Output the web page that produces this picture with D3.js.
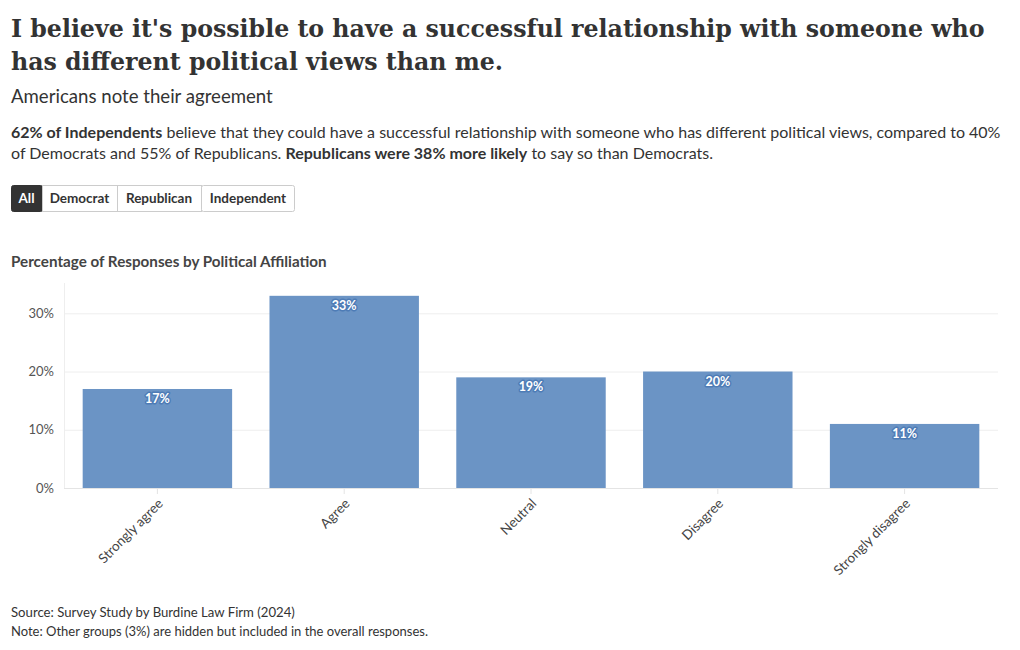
<!DOCTYPE html>
<html>
<head>
<meta charset="utf-8">
<script src="https://cdn.jsdelivr.net/npm/d3@7"></script>
<style>
  html, body { margin: 0; padding: 0; background: #fff; }
  svg { display: block; }
</style>
</head>
<body>
<svg id="chart" width="1020" height="650"></svg>
<script>
const categories = ["Strongly agree", "Agree", "Neutral", "Disagree", "Strongly disagree"];
const values = [17, 33, 19, 20, 11];
const yTicks = [0, 10, 20, 30];
const buttons = ["All", "Democrat", "Republican", "Independent"];
const titleLines = ["I believe it's possible to have a successful relationship with someone who", "has different political views than me."];
const subtitle = "Americans note their agreement";
const descLines = [
  [{t: "62% of Independents", b: true}, {t: " believe that they could have a successful relationship with someone who has different political views, compared to 40%", b: false}],
  [{t: "of Democrats and 55% of Republicans. ", b: false}, {t: "Republicans were 38% more likely", b: true}, {t: " to say so than Democrats.", b: false}]
];
const chartTitle = "Percentage of Responses by Political Affiliation";
const footer = ["Source: Survey Study by Burdine Law Firm (2024)", "Note: Other groups (3%) are hidden but included in the overall responses."];

const svg = d3.select("#chart");
const sans = "Lato, 'Noto Sans', sans-serif";
const serif = "'DejaVu Serif', serif";

function fit(sel, size, target) {
  const w = sel.node().getComputedTextLength();
  return size * target / w;
}

// Title (fit line width to reference)
const tg = svg.append("g");
const t1 = tg.append("text").attr("x", 11).attr("y", 37).attr("font-family", serif).attr("font-weight", 700)
  .attr("font-size", 26).attr("fill", "#333").text(titleLines[0]);
const titleSize = fit(t1, 26, 974);
t1.attr("font-size", titleSize);
tg.append("text").attr("x", 11).attr("y", 70).attr("font-family", serif).attr("font-weight", 700)
  .attr("font-size", titleSize).attr("fill", "#333").text(titleLines[1]);

const sub = svg.append("text").attr("x", 11).attr("y", 103).attr("font-family", sans).attr("font-size", 18.5)
  .attr("fill", "#333").text(subtitle);
sub.attr("font-size", fit(sub, 18.5, 262));

// Description
const descY = [138, 159];
let descSize = 15.5;
const dTexts = descLines.map((parts, i) => {
  const txt = svg.append("text").attr("x", 11).attr("y", descY[i]).attr("font-family", sans)
    .attr("font-size", descSize).attr("fill", "#333");
  parts.forEach(p => txt.append("tspan").attr("font-weight", p.b ? 700 : 400).text(p.t));
  return txt;
});
descSize = fit(dTexts[0], descSize, 990);
dTexts.forEach(t => t.attr("font-size", descSize));

// Buttons
const btnEdges = [11, 42, 117, 201, 295];
const bg = svg.append("g");
buttons.forEach((b, i) => {
  const x0 = btnEdges[i], x1 = btnEdges[i + 1];
  bg.append("rect").attr("x", x0 + 0.5).attr("y", 185.5).attr("width", x1 - x0 - 1 + (i === 3 ? 0 : 1)).attr("height", 26)
    .attr("rx", i === 0 || i === 3 ? 2 : 0)
    .attr("fill", i === 0 ? "#333" : "#fff").attr("stroke", i === 0 ? "#333" : "#ccc");
  bg.append("text").attr("x", (x0 + x1) / 2).attr("y", 203).attr("text-anchor", "middle")
    .attr("font-family", sans).attr("font-weight", 700).attr("font-size", 13.5)
    .attr("fill", i === 0 ? "#fff" : "#333").text(b);
});

// Chart title
const ct = svg.append("text").attr("x", 11).attr("y", 267).attr("font-family", sans).attr("font-weight", 700)
  .attr("font-size", 14).attr("fill", "#444").text(chartTitle);
ct.attr("font-size", fit(ct, 14, 316));

// Chart
const x = d3.scaleBand().domain(categories).range([64, 998]).paddingInner(0.2).paddingOuter(0.1);
const y = d3.scaleLinear().domain([0, 35.2]).range([488, 283]);

const grid = svg.append("g");
grid.selectAll("line.g").data(yTicks).join("line")
  .attr("x1", 64).attr("x2", 998).attr("y1", d => y(d) + 0.5).attr("y2", d => y(d) + 0.5)
  .attr("stroke", d => d === 0 ? "#e4e4e4" : "#eeeeee").attr("stroke-width", 1);
grid.append("line").attr("x1", 64.5).attr("x2", 64.5).attr("y1", 283).attr("y2", 488)
  .attr("stroke", "#eeeeee");

const yAxis = svg.append("g").attr("transform", "translate(64,0)")
  .call(d3.axisLeft(y).tickValues(yTicks).tickFormat(d => d + "%").tickSize(0).tickPadding(10));
yAxis.select(".domain").remove();
yAxis.selectAll("text").attr("font-family", sans).attr("font-size", 13).attr("fill", "#555");

svg.append("g").selectAll("rect").data(values).join("rect")
  .attr("x", (d, i) => x(categories[i])).attr("width", x.bandwidth())
  .attr("y", d => y(d)).attr("height", d => y(0) - y(d))
  .attr("fill", "#6b94c5");

svg.append("g").selectAll("text").data(values).join("text")
  .attr("x", (d, i) => x(categories[i]) + x.bandwidth() / 2)
  .attr("y", d => y(d) + 14)
  .attr("text-anchor", "middle").attr("font-family", sans).attr("font-weight", 700).attr("font-size", 12.5)
  .attr("fill", "#fff").attr("stroke", "#4e7cb6").attr("stroke-width", 3).attr("stroke-linejoin", "round")
  .attr("paint-order", "stroke").text(d => d + "%");

const xAxis = svg.append("g").attr("transform", "translate(0,488)")
  .call(d3.axisBottom(x).tickSize(6).tickPadding(4));
xAxis.select(".domain").remove();
xAxis.selectAll(".tick line").attr("stroke", "#e4e4e4");
xAxis.selectAll("text").attr("font-family", sans).attr("font-size", 13.5).attr("fill", "#444")
  .attr("text-anchor", "end").attr("x", 0).attr("y", 0).attr("dy", "0.35em")
  .attr("transform", "translate(3,13) rotate(-45)");

// Footer
footer.forEach((f, i) => {
  const ft = svg.append("text").attr("x", 11).attr("y", 617 + i * 19).attr("font-family", sans).attr("font-size", 13)
    .attr("fill", "#333").text(f);
  if (i === 0) ft.attr("font-size", fit(ft, 13, 284));
});
</script>
</body>
</html>
